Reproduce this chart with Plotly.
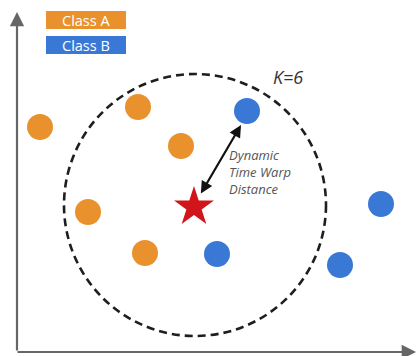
import plotly.graph_objects as go

# ── Data (pixel-like coordinates of the sketch) ─────────────────────────────
class_a_x = [40, 138, 181, 88, 145]
class_a_y = [127, 107, 146, 212, 253]

class_b_x = [247, 381, 217, 340]
class_b_y = [111, 204, 254, 265]

query_x = [194]
query_y = [207]

k_center = (195, 205)
k_radius = 131
k_label = "K=6"

distance_label = ["Dynamic", "Time Warp", "Distance"]
legend_labels = ["Class A", "Class B"]

ORANGE = "#E8912D"
BLUE = "#3A78D6"
RED = "#D0151B"
AXIS_GRAY = "#666666"

fig = go.Figure()

fig.add_trace(go.Scatter(
    x=class_a_x, y=class_a_y, mode="markers",
    marker=dict(size=26, color=ORANGE, line=dict(width=0)),
    name=legend_labels[0], showlegend=False,
))
fig.add_trace(go.Scatter(
    x=class_b_x, y=class_b_y, mode="markers",
    marker=dict(size=26, color=BLUE, line=dict(width=0)),
    name=legend_labels[1], showlegend=False,
))
fig.add_trace(go.Scatter(
    x=query_x, y=query_y, mode="markers",
    marker=dict(size=30, color=RED, symbol="star", line=dict(width=0)),
    showlegend=False,
))

# K neighbourhood circle
cx, cy = k_center
fig.add_shape(
    type="circle", xref="x", yref="y",
    x0=cx - k_radius, x1=cx + k_radius, y0=cy - k_radius, y1=cy + k_radius,
    line=dict(color="#1e1e1e", width=2.6, dash="8px,5px"),
)

annotations = []

# axes with arrowheads
annotations.append(dict(x=17, y=12, ax=17, ay=352, xref="x", yref="y", axref="x", ayref="y",
                        showarrow=True, arrowhead=2, arrowsize=1.3, arrowwidth=2.2,
                        arrowcolor=AXIS_GRAY, text=""))
annotations.append(dict(x=416, y=352, ax=16, ay=352, xref="x", yref="y", axref="x", ayref="y",
                        showarrow=True, arrowhead=2, arrowsize=1.3, arrowwidth=2.2,
                        arrowcolor=AXIS_GRAY, text=""))

# double-headed distance arrow (star -> nearest B point)
annotations.append(dict(x=class_b_x[0] - 6, y=class_b_y[0] + 14, ax=query_x[0] + 6, ay=query_y[0] - 12,
                        xref="x", yref="y", axref="x", ayref="y",
                        showarrow=True, arrowhead=2, startarrowhead=2, arrowside="end+start",
                        arrowsize=1.1, startarrowsize=1.1, arrowwidth=2.2,
                        arrowcolor="#111111", text=""))

annotations.append(dict(x=271, y=77, xref="x", yref="y", text=f"<i>{k_label}</i>",
                        showarrow=False, xanchor="left",
                        font=dict(size=18, color="#333333", family="Open Sans")))

for i, line in enumerate(distance_label):
    annotations.append(dict(x=227, y=155 + i * 17, xref="x", yref="y", text=f"<i>{line}</i>",
                            showarrow=False, xanchor="left",
                            font=dict(size=13, color="#555555", family="Open Sans")))

# legend boxes
for i, (lab, col) in enumerate(zip(legend_labels, [ORANGE, BLUE])):
    y0 = 11 + i * 25
    fig.add_shape(type="rect", xref="x", yref="y", x0=46, x1=126, y0=y0, y1=y0 + 18,
                  fillcolor=col, line=dict(width=0), layer="below")
    annotations.append(dict(x=86, y=y0 + 9, xref="x", yref="y", text=lab, showarrow=False,
                            font=dict(size=14.5, color="white", family="Open Sans")))

fig.update_layout(
    width=417, height=356,
    margin=dict(l=0, r=0, t=0, b=0),
    paper_bgcolor="white", plot_bgcolor="white",
    xaxis=dict(range=[0, 417], visible=False, fixedrange=True),
    yaxis=dict(range=[356, 0], visible=False, fixedrange=True),
    annotations=annotations,
    showlegend=False,
)

fig.write_html("out.html", config=dict(displayModeBar=False),
               post_script="document.body.style.margin='0';")
